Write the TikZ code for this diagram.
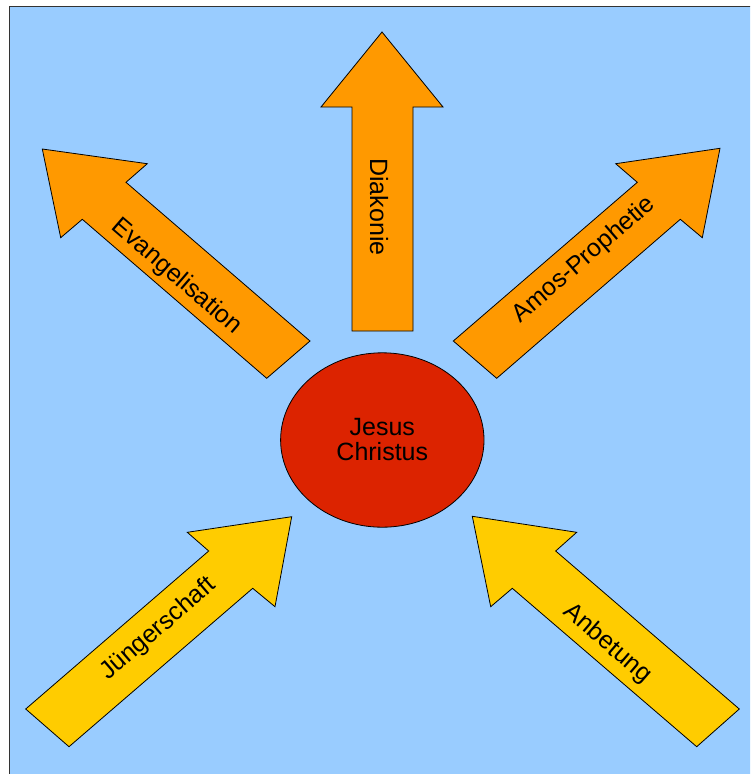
\documentclass[tikz,border=0pt]{standalone}
\usepackage{fontspec}
\setmainfont{Liberation Sans}
\usetikzlibrary{shapes.geometric}
\definecolor{bgblue}{HTML}{99CCFF}
\definecolor{arrorange}{HTML}{FF9900}
\definecolor{arryellow}{HTML}{FFCC00}
\definecolor{centerred}{HTML}{DC2300}
\tikzset{
  outerarrow/.style={draw=black, line width=0.8pt, fill=arrorange, line join=miter},
  innerarrow/.style={draw=black, line width=0.8pt, fill=arryellow, line join=miter},
  arrowlabel/.style={inner sep=0pt, font=\fontsize{25}{25}\selectfont},
  centernode/.style={ellipse, draw=black, line width=0.8pt, fill=centerred, inner sep=0pt,
    minimum width=203.4pt, minimum height=174.4pt, align=center,
    font=\fontsize{25}{25}\selectfont}
}
\begin{document}
\begin{tikzpicture}[x=1pt,y=-1pt]
\useasboundingbox (0,0) rectangle (750,774);
\begin{scope}
\clip (0,0) rectangle (750,774);
\draw[fill=bgblue, draw=black!80, line width=1pt] (9.5,6.5) rectangle (753,777);
\end{scope}

% Diakonie (up)
\draw[outerarrow] (352,331) -- (352,107) -- (321,107) -- (382,32) -- (443,107) -- (413,107) -- (413,331) -- cycle;
\node[arrowlabel, rotate=-90] (diak) at (379,207) {Diakonie};

% Evangelisation (up-left)
\draw[outerarrow] (266.7,378.3) -- (82.3,219.3) -- (60.7,237.7) -- (42.3,149) -- (147.3,163.7) -- (126,182.3) -- (310,341) -- cycle;
\node[arrowlabel, rotate=-40.8] (evang) at (176.5,277) {Evangelisation};

% Amos-Prophetie (up-right)
\draw[outerarrow] (496.7,378.3) -- (680.3,219.3) -- (702.3,237.7) -- (720,148.3) -- (615.7,163.7) -- (637.3,182.3) -- (453.3,341) -- cycle;
\node[arrowlabel, rotate=40.8] (amos) at (584,260) {Amos-Prophetie};

% Juengerschaft (lower-left, pointing to center)
\draw[innerarrow] (25.7,709) -- (208.7,551) -- (187.3,532.3) -- (291.7,516.7) -- (275,606.7) -- (252.7,588.3) -- (69,746.7) -- cycle;
\node[arrowlabel, rotate=40.8] (jueng) at (158.3,629.3) {Jüngerschaft};

% Anbetung (lower-right, pointing to center)
\draw[innerarrow] (739.3,709) -- (555.7,551) -- (576.7,532.3) -- (472.3,516.3) -- (490.7,606.7) -- (512.3,588.3) -- (696.7,746.7) -- cycle;
\node[arrowlabel, rotate=-40.8] (anbet) at (607.4,644) {Anbetung};

% Center
\node[centernode] (jesus) at (382.3,440) {Jesus\\Christus};
\end{tikzpicture}
\end{document}
